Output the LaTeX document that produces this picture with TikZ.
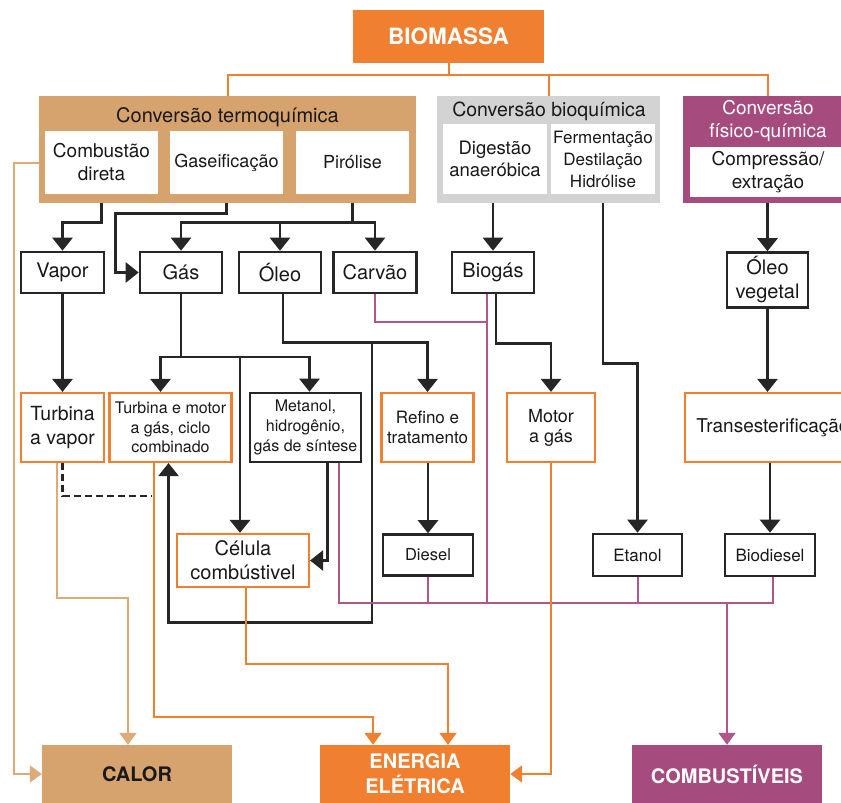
\documentclass[tikz,border=0pt]{standalone}
\usepackage{fontspec}
\setmainfont{TeX Gyre Heros}
\usetikzlibrary{arrows.meta}
\definecolor{laranja}{HTML}{F07F2F}
\definecolor{bege}{HTML}{D6A26D}
\definecolor{begel}{HTML}{DDAA78}
\definecolor{roxo}{HTML}{A64B7E}
\definecolor{roxol}{HTML}{B0578A}
\definecolor{cinza}{HTML}{D3D3D3}
\newcommand{\fs}[2]{\fontsize{#1}{#2}\selectfont}
\begin{document}
\begin{tikzpicture}[x=1pt,y=-1pt]
\tikzstyle{caixa} = [draw=black!85, line width=2.6pt, fill=white, inner sep=0pt, align=center, text=black!90] % black box
\tikzstyle{proc} = [caixa, draw=laranja, line width=2.2pt] % orange process box
\tikzstyle{dentro} = [fill=white, inner sep=0pt, align=center, text=black!90] % white box inside a group
\tikzstyle{grande} = [inner sep=0pt, minimum width=190, minimum height=58, align=center, font=\fs{20}{25}\bfseries] % bottom boxes
\tikzstyle{linha} = [line width=2.6pt, draw=black!85]
\tikzstyle{seta} = [linha, -{Triangle[width=20pt,length=13pt]}] % black arrow
\tikzstyle{fio} = [line width=2pt, -{Triangle[width=17pt,length=12pt]}] % coloured arrow

\clip (0,0) rectangle (841,803);

% topo
\node[fill=laranja, inner sep=0pt, minimum width=191, minimum height=53, text=white, font=\fs{22.5}{26}\bfseries] (biomassa) at (448.5,36.5) {BIOMASSA};

\node[fill=bege, minimum width=377, minimum height=107] (termo) at (227.5,149.5) {};
\node[font=\fs{20}{24}, text=black!90] (termotit) at (227.5,117) {Conversão termoquímica};
\node[dentro, minimum width=113, minimum height=63, font=\fs{19}{23}] (comb) at (101.5,162.5) {Combustão\\direta};
\node[dentro, minimum width=113, minimum height=63, font=\fs{18}{22}] (gase) at (226.5,162.5) {Gaseificação};
\node[dentro, minimum width=113, minimum height=63, font=\fs{18}{22}] (piro) at (352.5,162.5) {Pirólise};

\node[fill=cinza, minimum width=223, minimum height=107] (bio) at (548.5,149.5) {};
\node[font=\fs{19.5}{23}, text=black!90] (biotit) at (549,111) {Conversão bioquímica};
\node[dentro, minimum width=104, minimum height=70, font=\fs{18.5}{22}] (dig) at (495,159) {Digestão\\anaeróbica};
\node[dentro, minimum width=104, minimum height=70, font=\fs{17}{22}] (ferm) at (603,159) {Fermentação\\Destilação\\Hidrólise};

\node[fill=roxo, minimum width=170, minimum height=107] (fis) at (768,149.5) {};
\node[font=\fs{19}{23}, text=white, align=center] (fistit) at (768,120.5) {Conversão\\físico-química};
\node[dentro, minimum width=156, minimum height=50, font=\fs{19}{23}] (comp) at (768,172) {Compressão/\\extração};

% produtos
\node[caixa, minimum width=83, minimum height=41, font=\fs{20}{24}] (vapor) at (62.5,272.5) {Vapor};
\node[caixa, minimum width=82, minimum height=41, font=\fs{20}{24}] (gas) at (181,272.5) {Gás};
\node[caixa, minimum width=82, minimum height=41, font=\fs{20}{24}] (oleo) at (280,272.5) {Óleo};
\node[caixa, minimum width=83, minimum height=41, font=\fs{20}{24}] (carvao) at (375,272.5) {Carvão};
\node[caixa, minimum width=82, minimum height=41, font=\fs{20}{24}] (biogas) at (493,272.5) {Biogás};
\node[caixa, minimum width=81, minimum height=55, font=\fs{20}{24}] (oleoveg) at (767.5,280) {Óleo\\vegetal};

% processos
\node[proc, minimum width=83, minimum height=69, font=\fs{19.5}{24}] (tvapor) at (62.5,427.5) {Turbina\\a vapor};
\node[proc, minimum width=122, minimum height=69, font=\fs{16}{19.5}] (tmotor) at (170.5,427.5) {Turbina e motor\\a gás, ciclo\\combinado};
\node[caixa, minimum width=111, minimum height=69, font=\fs{16}{20}] (metanol) at (305.5,427.5) {Metanol,\\hidrogênio,\\gás de síntese};
\node[proc, minimum width=92, minimum height=69, font=\fs{17}{20}] (refino) at (427.5,427.5) {Refino e\\tratamento};
\node[proc, minimum width=88, minimum height=69, font=\fs{18}{20}] (motor) at (551,427.5) {Motor\\a gás};
\node[proc, minimum width=176, minimum height=69, font=\fs{19}{23}] (trans) at (773,427.5) {Transesterificação};

\node[proc, minimum width=132, minimum height=53, font=\fs{20}{24}] (celula) at (243,560.5) {Célula\\combústivel};
\node[caixa, minimum width=90, minimum height=41, font=\fs{16.5}{20}] (diesel) at (428,555) {Diesel};
\node[caixa, minimum width=89, minimum height=42, font=\fs{17}{20}] (etanol) at (637.5,555) {Etanol};
\node[caixa, minimum width=90, minimum height=42, font=\fs{17}{20}] (biodiesel) at (770,555) {Biodiesel};

% usos finais
\node[grande, fill=bege, text=black!90] (calor) at (137,774) {CALOR};
\node[grande, fill=laranja, text=white] (energia) at (415,774) {ENERGIA\\ELÉTRICA};
\node[grande, fill=roxo, text=white] (combust) at (727,774) {COMBUSTÍVEIS};

\coordinate (bus) at (0,603);

% biomassa -> conversoes
\draw[laranja, line width=2pt] (biomassa.south) -- ++(0,12) coordinate (bj);
\draw[laranja, line width=2pt] (termo.north) |- (bj) -| (fis.north);
\draw[laranja, line width=2pt] (bio.north) -- (bio.north |- bj);

% conversoes -> produtos
\draw[seta] (comb |- termo.south) -- ++(0,19) -| (vapor);
\draw[seta] (gase |- termo.south) -- ++(0,10) -| ([xshift=-23pt]gas.west) -- (gas);
\draw[linha] (piro |- termo.south) -- ++(0,19) coordinate (pj);
\draw[seta] (pj) -| (gas);
\draw[seta] (pj) -| (oleo);
\draw[seta] (pj) -| (carvao);
\draw[seta] (biogas |- bio.south) -- (biogas);
\draw[seta] (ferm |- bio.south) -- ++(0,160) -| (etanol);
\draw[seta] (oleoveg |- fis.south) -- (oleoveg);

% produtos -> processos
\draw[seta] (vapor) -- (tvapor);
\draw[linha] (gas) -- ++(0,84.5) coordinate (gj);
\draw[seta] (gj) -| ([xshift=-10pt]tmotor.north);
\draw[seta] (gj) -| ([xshift=4pt]metanol.north);
\draw[seta] (gj) -| ([xshift=-3pt]celula.north);
\draw[seta] ([xshift=3pt]oleo.south) -- ++(0,48) coordinate (oj) -| (refino);
\draw[seta] ([xshift=-3pt]oj -| carvao) -- ++(0,280) -| ([xshift=-2pt]tmotor.south);
\draw[seta] ([xshift=3pt]biogas.south) -- ++(0,49) -| (motor);
\draw[seta] ([xshift=22pt]metanol.south) |- (celula);
\draw[seta] (diesel |- refino.south) -- (diesel);
\draw[seta] (oleoveg) -- (oleoveg |- trans.north);
\draw[seta] (biodiesel |- trans.south) -- (biodiesel);

% combustiveis
\draw[roxol, line width=2pt] (carvao.south) -- ++(0,28) -| ([xshift=-6pt]biogas.south);
\draw[roxol, line width=2pt] ([xshift=-6pt]biogas.south) -- ([xshift=-6pt]biogas.south |- bus);
\draw[roxol, line width=2pt] ([xshift=33pt]metanol.south) |- ([xshift=3pt]biodiesel.south |- bus) -- ([xshift=3pt]biodiesel.south);
\draw[roxol, line width=2pt] (diesel) -- (diesel |- bus);
\draw[roxol, line width=2pt] (etanol) -- (etanol |- bus);
\draw[roxol, fio] (combust |- bus) -- (combust);

% calor e energia
\draw[begel, fio] (termo.west |- comb) -- ++(-25,0) |- (calor);
\draw[begel, fio] ([xshift=-6pt]tvapor.south) -- ++(0,135) -| ([xshift=-9pt]calor.north);
\draw[linha, line width=2.4pt, dash pattern=on 7pt off 4pt] (tvapor.south) |- ([xshift=-19pt,yshift=-33pt]tmotor.south);
\draw[laranja, fio] ([xshift=-17pt]tmotor.south) -- ++(0,254) -| ([xshift=-42pt]energia.north);
\draw[laranja, fio] ([xshift=3pt]celula.south) -- ++(0,76) -| ([xshift=33pt]energia.north);
\draw[laranja, fio] (motor) |- (energia);
\end{tikzpicture}
\end{document}
